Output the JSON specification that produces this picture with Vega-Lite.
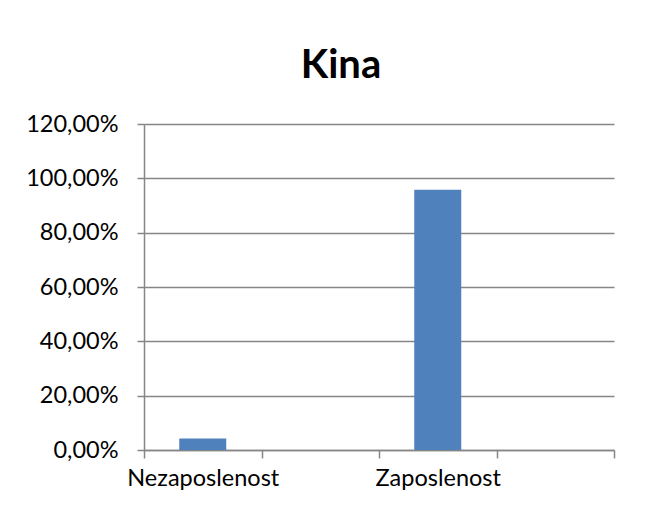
{
  "$schema": "https://vega.github.io/schema/vega-lite/v6.json",
  "width": 470,
  "height": 326,
  "autosize": {"type": "none"},
  "padding": {"left": 144, "top": 124, "right": 51, "bottom": 62},
  "background": "white",
  "title": {
    "text": "Kina",
    "font": "Lato",
    "fontSize": 40,
    "fontWeight": "bold",
    "color": "#000000",
    "anchor": "middle",
    "baseline": "alphabetic",
    "offset": -6,
    "dx": -38
  },
  "data": {
    "values": [
      {"kategorija": "Nezaposlenost", "udio": 0.042},
      {"kategorija": "Zaposlenost", "udio": 0.958}
    ]
  },
  "mark": {"type": "bar", "color": "#4F81BD", "width": {"band": 0.4}},
  "encoding": {
    "x": {
      "field": "kategorija",
      "type": "nominal",
      "sort": null,
      "scale": {"domain": ["Nezaposlenost", " ", "Zaposlenost", "  "], "paddingInner": 0, "paddingOuter": 0},
      "axis": {
        "title": null,
        "labelAngle": 0,
        "tickBand": "extent",
        "tickSize": 8,
        "tickColor": "#868686",
        "tickWidth": 1.5,
        "domainColor": "#868686",
        "domainWidth": 1.5,
        "labelFont": "Lato",
        "labelFontSize": 23.5,
        "labelColor": "#000000",
        "labelPadding": 8
      }
    },
    "y": {
      "field": "udio",
      "type": "quantitative",
      "scale": {"domain": [0, 1.2], "nice": false},
      "axis": {
        "title": null,
        "values": [0, 0.2, 0.4, 0.6, 0.8, 1.0, 1.2],
        "labelExpr": "replace(format(datum.value, '.2%'), '.', ',')",
        "tickSize": 7,
        "tickColor": "#868686",
        "tickWidth": 1.5,
        "domainColor": "#868686",
        "domainWidth": 1.5,
        "gridColor": "#868686",
        "gridWidth": 1.5,
        "labelFont": "Lato",
        "labelFontSize": 23.5,
        "labelColor": "#000000",
        "labelPadding": 19
      }
    }
  },
  "config": {"view": {"stroke": null}}
}
